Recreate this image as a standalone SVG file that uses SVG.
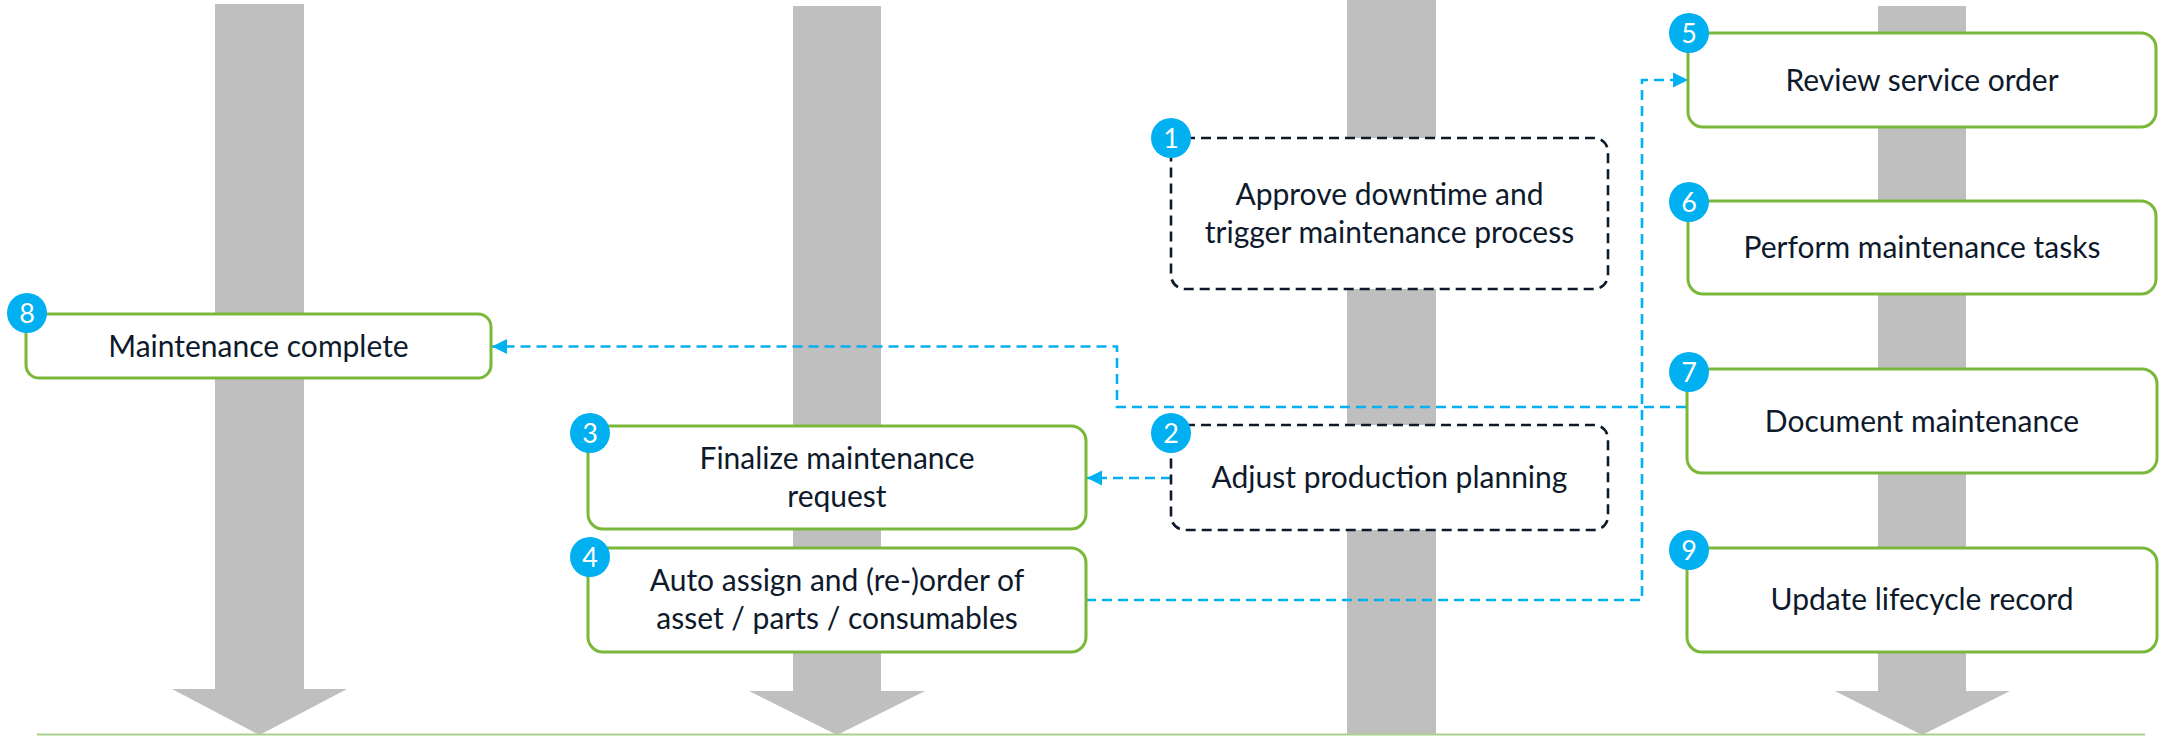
<svg xmlns="http://www.w3.org/2000/svg" width="2165" height="736" viewBox="0 0 2165 736">
<defs>
<style>
.lane{fill:#bfbfbf;}
.box{fill:#ffffff;stroke:#7ab83a;stroke-width:3;}
.dbox{fill:#ffffff;stroke:#0e1a2b;stroke-width:2.6;stroke-dasharray:10 6;}
.t{font-family:Lato,"Open Sans",sans-serif;font-size:30px;fill:#0e1a2b;text-anchor:middle;}
.badge{fill:#00b0f0;}
.bt{font-family:Lato,"Open Sans",sans-serif;font-size:27px;fill:#ffffff;text-anchor:middle;}
.conn{fill:none;stroke:#00b0f0;stroke-width:2.6;stroke-dasharray:10 6;}
</style>
<marker id="arr" markerUnits="userSpaceOnUse" markerWidth="16" markerHeight="16" viewBox="0 0 16 16" refX="15" refY="8" orient="auto">
<path d="M0,0.5 L15,8 L0,15.5 Z" fill="#00b0f0"/>
</marker>
</defs>
<g id="lanes">
<rect class="lane" x="215" y="4" width="89" height="686"/>
<polygon class="lane" points="172,689 347,689 259.5,735"/>
<rect class="lane" x="793" y="6" width="88" height="686"/>
<polygon class="lane" points="749,691 925,691 837,735"/>
<rect class="lane" x="1347" y="0" width="89" height="735"/>
<rect class="lane" x="1878" y="6" width="88" height="686"/>
<polygon class="lane" points="1835,691 2010,691 1922,735"/>
<line x1="37" y1="734.5" x2="2145" y2="734.5" stroke="#a9d18e" stroke-width="2"/>
</g>
<g id="connectors">
<path class="conn" d="M1171,478 H1087" marker-end="url(#arr)"/>
<path class="conn" d="M1086,600 H1642 V80 H1688" marker-end="url(#arr)"/>
<path class="conn" d="M1686,407 H1117 V346.5 H492" marker-end="url(#arr)"/>
</g>
<g id="node1">
<rect class="dbox" x="1171" y="138" width="437" height="151" rx="14"/>
<text class="t" x="1389.5" y="205">Approve downtime and</text>
<text class="t" x="1389.5" y="243">trigger maintenance process</text>
<circle class="badge" cx="1171" cy="138" r="20"/>
<text class="bt" x="1171" y="147.5">1</text>
</g>
<g id="node2">
<rect class="dbox" x="1171" y="425" width="437" height="105" rx="14"/>
<text class="t" x="1389.5" y="488">Adjust production planning</text>
<circle class="badge" cx="1171" cy="433" r="20"/>
<text class="bt" x="1171" y="442.5">2</text>
</g>
<g id="node3">
<rect class="box" x="588" y="426" width="498" height="103" rx="15"/>
<text class="t" x="837" y="469">Finalize maintenance</text>
<text class="t" x="837" y="507">request</text>
<circle class="badge" cx="590" cy="433" r="20"/>
<text class="bt" x="590" y="442.5">3</text>
</g>
<g id="node4">
<rect class="box" x="588" y="548" width="498" height="104" rx="15"/>
<text class="t" x="837" y="591">Auto assign and (re-)order of</text>
<text class="t" x="837" y="629">asset / parts / consumables</text>
<circle class="badge" cx="590" cy="557" r="20"/>
<text class="bt" x="590" y="566.5">4</text>
</g>
<g id="node5">
<rect class="box" x="1688" y="33" width="468" height="94" rx="15"/>
<text class="t" x="1922" y="91">Review service order</text>
<circle class="badge" cx="1689" cy="33" r="20"/>
<text class="bt" x="1689" y="42.5">5</text>
</g>
<g id="node6">
<rect class="box" x="1688" y="201" width="468" height="93" rx="15"/>
<text class="t" x="1922" y="258">Perform maintenance tasks</text>
<circle class="badge" cx="1689" cy="202" r="20"/>
<text class="bt" x="1689" y="211.5">6</text>
</g>
<g id="node7">
<rect class="box" x="1687" y="369" width="470" height="104" rx="15"/>
<text class="t" x="1922" y="432">Document maintenance</text>
<circle class="badge" cx="1689" cy="372" r="20"/>
<text class="bt" x="1689" y="381.5">7</text>
</g>
<g id="node8">
<rect class="box" x="26" y="314" width="465" height="64" rx="13"/>
<text class="t" x="258.5" y="357">Maintenance complete</text>
<circle class="badge" cx="27" cy="313" r="20"/>
<text class="bt" x="27" y="322.5">8</text>
</g>
<g id="node9">
<rect class="box" x="1687" y="548" width="470" height="104" rx="15"/>
<text class="t" x="1922" y="610">Update lifecycle record</text>
<circle class="badge" cx="1689" cy="550" r="20"/>
<text class="bt" x="1689" y="559.5">9</text>
</g>
</svg>
